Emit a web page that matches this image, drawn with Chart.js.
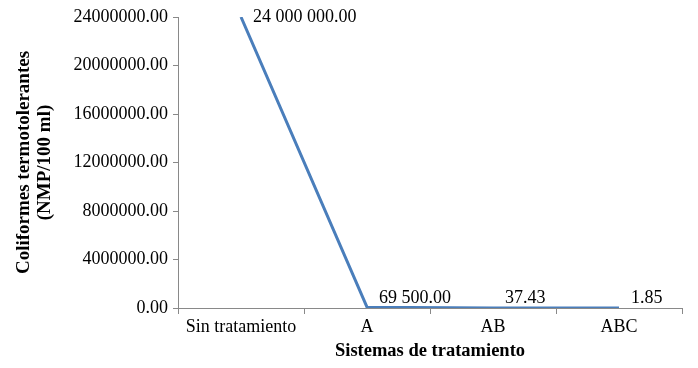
<!DOCTYPE html>
<html>
<head>
    <title>Coliformes termotolerantes</title>
    <script src="https://cdn.jsdelivr.net/npm/chart.js"></script>
    <style>
        body { margin: 0; background: #fff; }
    </style>
</head>
<body>
    <canvas id="line-chart" width="698" height="368"></canvas>

    <script>
        // Data
        const categories = ['Sin tratamiento', 'A', 'AB', 'ABC'];
        const coliformes = [24000000, 69500, 37.43, 1.85];
        const yTicks = [0, 4000000, 8000000, 12000000, 16000000, 20000000, 24000000];

        const axisGray = '#898989';
        const serif = "'Liberation Serif', 'Times New Roman', serif";

        // "24 000 000.00" style labels
        function spacedNumber(v) {
            const parts = v.toFixed(2).split('.');
            return parts[0].replace(/\B(?=(\d{3})+(?!\d))/g, ' ') + '.' + parts[1];
        }

        // Value labels to the right of each point
        const valueLabels = {
            id: 'valueLabels',
            afterDatasetsDraw(chart) {
                const ctx = chart.ctx;
                const meta = chart.getDatasetMeta(0);
                const bottom = chart.chartArea.bottom;
                ctx.save();
                ctx.font = '18px ' + serif;
                ctx.fillStyle = '#000';
                ctx.textAlign = 'left';
                ctx.textBaseline = 'middle';
                meta.data.forEach((pt, i) => {
                    ctx.fillText(spacedNumber(coliformes[i]), pt.x + 12, Math.min(pt.y, bottom - 10));
                });
                ctx.restore();
            }
        };

        const ctx = document.getElementById('line-chart').getContext('2d');

        new Chart(ctx, {
            type: 'line',
            data: {
                labels: categories,
                datasets: [{
                    data: coliformes,
                    borderColor: '#4a7ebb',
                    borderWidth: 3,
                    pointRadius: 0,
                    tension: 0,
                    fill: false
                }]
            },
            options: {
                responsive: false,
                animation: false,
                layout: { padding: { top: 17, right: 16, left: 0, bottom: 0 } },
                plugins: {
                    legend: { display: false },
                    tooltip: { enabled: false }
                },
                scales: {
                    x: {
                        offset: true,
                        afterFit(scale) { scale.height = 60; },
                        grid: {
                            offset: true,
                            drawOnChartArea: false,
                            tickLength: 6,
                            color: axisGray
                        },
                        border: { color: axisGray, width: 1 },
                        ticks: {
                            color: '#000',
                            padding: 2,
                            maxRotation: 0,
                            font: { family: serif, size: 18 }
                        },
                        title: {
                            display: true,
                            text: 'Sistemas de tratamiento',
                            color: '#000',
                            font: { family: serif, size: 18.5, weight: 'bold', lineHeight: 1.15 },
                            padding: { top: 0, bottom: 6 }
                        }
                    },
                    y: {
                        min: 0,
                        max: 24000000,
                        afterFit(scale) { scale.width = 178; },
                        afterBuildTicks(scale) {
                            scale.ticks = yTicks.map(v => ({ value: v }));
                        },
                        grid: {
                            drawOnChartArea: false,
                            tickLength: 5,
                            color: axisGray
                        },
                        border: { color: axisGray, width: 1 },
                        ticks: {
                            color: '#000',
                            padding: 5,
                            font: { family: serif, size: 18 },
                            callback: v => v.toFixed(2)
                        },
                        title: {
                            display: true,
                            text: ['Coliformes termotolerantes', '(NMP/100 ml)'],
                            color: '#000',
                            font: { family: serif, size: 19, weight: 'bold', lineHeight: 21 / 19 },
                            padding: { top: 14, bottom: 0 }
                        }
                    }
                }
            },
            plugins: [valueLabels]
        });
    </script>
</body>
</html>
